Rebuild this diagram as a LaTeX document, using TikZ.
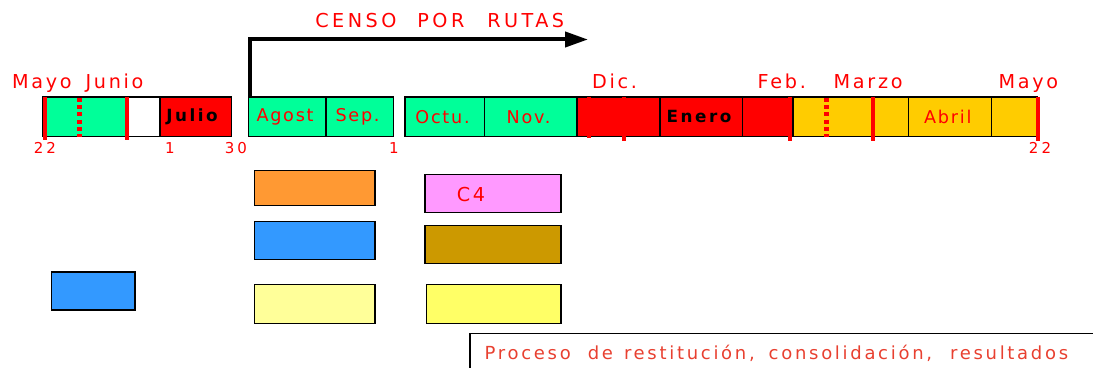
\documentclass[tikz,border=0pt]{standalone}
\usepackage{fontspec}
\setmainfont{DejaVu Sans}
\newfontfamily\fuentetitulo[LetterSpace=18]{DejaVu Sans}
\newfontfamily\fuentemes[LetterSpace=14]{DejaVu Sans}
\newfontfamily\fuenteseg[LetterSpace=10]{DejaVu Sans}
\newfontfamily\fuenteneg[LetterSpace=15]{DejaVu Sans}
\newfontfamily\fuentedia[LetterSpace=20]{DejaVu Sans}
\newfontfamily\fuenteproc[LetterSpace=15]{DejaVu Sans}
\usetikzlibrary{arrows.meta}
\definecolor{verde}{RGB}{0,255,153}
\definecolor{oro}{RGB}{255,204,0}
\definecolor{naranja}{RGB}{255,153,51}
\definecolor{azul}{RGB}{51,153,255}
\definecolor{amarclaro}{RGB}{255,255,153}
\definecolor{rosa}{RGB}{255,153,255}
\definecolor{marron}{RGB}{204,153,0}
\definecolor{amarillo}{RGB}{255,255,102}
\definecolor{rojotexto}{RGB}{232,64,48}

\begin{document}
\begin{tikzpicture}[x=0.5pt, y=-0.5pt,
    seg/.style={draw, line width=0.6pt, minimum height=19.75pt, inner sep=0pt,
      text=red, font=\fuenteseg\fontsize{8.8}{9}\selectfont,
      execute at end node={\hspace*{2.2pt}}},
    segneg/.style={seg, text=black, font=\fuenteneg\bfseries\fontsize{8.4}{9}\selectfont},
    mes/.style={text=red, inner sep=0pt, anchor=base west,
      font=\fuentemes\fontsize{9.6}{10}\selectfont},
    dia/.style={text=red, inner sep=0pt, anchor=base,
      font=\fuentedia\fontsize{7.5}{8}\selectfont},
    marca/.style={red, line width=2.2pt},
    marcapunt/.style={red, line width=2.5pt, dash pattern=on 2pt off 1.6pt},
    caja/.style={draw, line width=0.7pt, inner sep=0pt},
  ]
  \clip (0,0) rectangle (1093,368);

  % barra de meses
  \node[seg, fill=verde, minimum width=41.5pt] (mayo) at (84.5,116.75) {};
  \node[seg, fill=white, minimum width=17pt] (blanco) at (143,116.75) {};
  \node[segneg, fill=red, minimum width=35.75pt] (julio) at (195.75,116.75) {Julio\hspace*{1.5pt}};
  \node[seg, fill=verde, minimum width=38.75pt] (agost) at (287.25,116.75) {Agost};
  \node[seg, fill=verde, minimum width=33.75pt] (sep) at (359.75,116.75) {Sep.};
  \node[seg, fill=verde, minimum width=39.75pt] (octu) at (444.75,116.75) {Octu.};
  \node[seg, fill=verde, minimum width=46.25pt] (nov) at (530.75,116.75) {Nov.};
  \node[seg, fill=red, minimum width=41.5pt] (dic) at (618.5,116.75) {};
  \node[segneg, fill=red, minimum width=41.25pt] (enero) at (701.25,116.75) {Enero};
  \node[seg, fill=red, minimum width=25.25pt] (feb) at (767.75,116.75) {};
  \node[seg, fill=oro, minimum width=57.75pt] (marzo) at (850.75,116.75) {};
  \node[seg, fill=oro, minimum width=41.5pt] (abril) at (950,116.75) {Abril};
  \node[seg, fill=oro, minimum width=22.75pt] (mayob) at (1014.25,116.75) {};

  % marcas de fechas
  \draw[marca] (45,97) -- (45,140.5);
  \draw[marca] (127,97) -- (127,140.5);
  \draw[marcapunt] (79,98) -- (79,137);
  \draw[marca] (589,97) -- (589,138);
  \draw[marca] (624,97) -- (624,141);
  \draw[marca] (790,97) -- (790,141);
  \draw[marcapunt] (826,98) -- (826,137);
  \draw[marca] (873,97) -- (873,141);
  \draw[marca] (1038,97) -- (1038,141);

  % meses arriba
  \node[mes] (tmayo) at (11.7,89) {Mayo\hspace{7pt}Junio};
  \node[mes] (tdic) at (591.7,89) {Dic.};
  \node[mes] (tfeb) at (757.3,89) {Feb.};
  \node[mes] (tmarzo) at (833.3,89) {Marzo};
  \node[mes] (tmayob) at (998.3,89) {Mayo};

  % dias abajo
  \node[dia] (d22) at (45,154) {22};
  \node[dia] (d1) at (170,154) {1};
  \node[dia] (d30) at (236,154) {30};
  \node[dia] (d1b) at (394,154) {1};
  \node[dia] (d22b) at (1040,154) {22};

  % censo por rutas
  \coordinate (censofin) at (588,39.5);
  \draw[line width=2pt, -{Triangle[length=11.5pt, width=7.5pt]}]
    ([xshift=1pt]agost.north west) |- (censofin);
  \node[mes, font=\fuentetitulo\fontsize{9.6}{10}\selectfont] (censo) at (315,28)
    {CENSO\hspace{10.5pt}POR\hspace{11.5pt}RUTAS};

  % cajas
  \node[caja, fill=azul, minimum width=41.65pt, minimum height=19pt] (azulc) at (93.35,291) {};
  \node[caja, fill=naranja, minimum width=60.35pt, minimum height=17.5pt] (c1) at (314.65,188.2) {};
  \node[caja, fill=azul, minimum width=60.35pt, minimum height=19pt] (c2) at (314.65,240.3) {};
  \node[caja, fill=amarclaro, minimum width=60.15pt, minimum height=19.3pt] (c3) at (314.85,304) {};
  \node[caja, fill=rosa, minimum width=68pt, minimum height=18.8pt] (c4) at (493,193.5) {};
  \node[mes, anchor=center] (tc4) at (471,195) {C4};
  \node[caja, fill=marron, minimum width=68pt, minimum height=19pt] (c5) at (493,244.7) {};
  \node[caja, fill=amarillo, minimum width=67.15pt, minimum height=19.3pt] (c6) at (493.85,304) {};

  % proceso
  \node[draw, line width=0.6pt, anchor=north west, minimum width=330pt, minimum height=19pt,
    inner sep=0pt] (proceso) at (469.3,333.3) {};
  \node[text=rojotexto, inner sep=0pt, anchor=base west,
    font=\fuenteproc\fontsize{9}{10}\selectfont] (tproceso) at (484.3,359.3)
    {Proceso\hspace{8.5pt}de\hspace{5.5pt}restitución,\hspace{7pt}consolidación,\hspace{9pt}resultados};
\end{tikzpicture}
\end{document}
